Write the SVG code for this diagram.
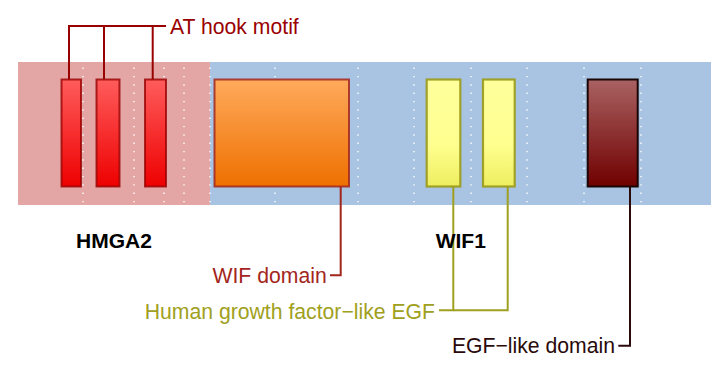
<svg xmlns="http://www.w3.org/2000/svg" width="719" height="366" viewBox="0 0 719 366">
<defs>
<linearGradient id="gRed" x1="0" y1="0" x2="0" y2="1"><stop offset="0" stop-color="#ff5c5c"/><stop offset="1" stop-color="#ee0000"/></linearGradient>
<linearGradient id="gOrange" x1="0" y1="0" x2="0" y2="1"><stop offset="0" stop-color="#ffaa5c"/><stop offset="1" stop-color="#ee7000"/></linearGradient>
<linearGradient id="gYellow" x1="0" y1="0" x2="0" y2="1"><stop offset="0" stop-color="#ffff9c"/><stop offset="0.6" stop-color="#ffff90"/><stop offset="1" stop-color="#eeee60"/></linearGradient>
<linearGradient id="gBrown" x1="0" y1="0" x2="0" y2="1"><stop offset="0" stop-color="#a96262"/><stop offset="1" stop-color="#700000"/></linearGradient>
</defs>
<style>
.dot{stroke:#ffffff;stroke-width:1.4;stroke-dasharray:1.4 6.93;fill:none}
.lbl{font-family:"Liberation Sans",Arial,sans-serif;font-size:21.2px}
.title{font-family:"Liberation Sans",Arial,sans-serif;font-size:21px;font-weight:bold;fill:#000}
.conn{fill:none;stroke-width:2}
</style>
<g id="background">
<rect x="18" y="62" width="192" height="143" fill="#e4a5a5"/>
<rect x="210" y="62" width="501" height="143" fill="#a8c4e2"/>
</g>
<g id="gridlines">
<line class="dot" x1="83" y1="67.6" x2="83" y2="203"/>
<line class="dot" x1="134" y1="67.6" x2="134" y2="203"/>
<line class="dot" x1="164" y1="67.6" x2="164" y2="203"/>
<line class="dot" x1="184" y1="67.6" x2="184" y2="203"/>
<line class="dot" x1="210" y1="67.6" x2="210" y2="203"/>
<line class="dot" x1="275" y1="67.6" x2="275" y2="203"/>
<line class="dot" x1="358" y1="67.6" x2="358" y2="203"/>
<line class="dot" x1="414" y1="67.6" x2="414" y2="203"/>
<line class="dot" x1="471" y1="67.6" x2="471" y2="203"/>
<line class="dot" x1="527" y1="67.6" x2="527" y2="203"/>
<line class="dot" x1="584" y1="67.6" x2="584" y2="203"/>
<line class="dot" x1="641" y1="67.6" x2="641" y2="203"/>
</g>
<g id="connectors">
<polyline class="conn" stroke="#990000" points="69,79.5 69,26 166,26"/>
<line class="conn" stroke="#990000" x1="104" y1="26" x2="104" y2="79.5"/>
<line class="conn" stroke="#990000" x1="152.7" y1="26" x2="152.7" y2="79.5"/>
<polyline class="conn" stroke="#a3261c" points="340.7,186.5 340.7,275.3 330,275.3"/>
<polyline class="conn" stroke="#a0a020" points="453.3,186.5 453.3,310.3 439,310.3"/>
<polyline class="conn" stroke="#a0a020" points="507.7,186.5 507.7,310.3 453.3,310.3"/>
<polyline class="conn" stroke="#2a0a0a" points="630,186.5 630,345.7 618.3,345.7"/>
</g>
<g id="hmga2">
<rect id="at1" x="61.5" y="79.5" width="19.5" height="107" fill="url(#gRed)" stroke="#990000" stroke-opacity="0.8" stroke-width="2"/>
<rect id="at2" x="96.5" y="79.5" width="23" height="107" fill="url(#gRed)" stroke="#990000" stroke-opacity="0.8" stroke-width="2"/>
<rect id="at3" x="145" y="79.5" width="21" height="107" fill="url(#gRed)" stroke="#990000" stroke-opacity="0.8" stroke-width="2"/>
<text class="title" x="76" y="248.3">HMGA2</text>
</g>
<g id="wif1">
<rect id="wifdomain" x="214.5" y="79.5" width="134.5" height="107" fill="url(#gOrange)" stroke="#a3261c" stroke-opacity="0.85" stroke-width="2"/>
<rect id="egf1" x="426.7" y="79.5" width="33.6" height="107" fill="url(#gYellow)" stroke="#9a9a18" stroke-opacity="0.9" stroke-width="2.2"/>
<rect id="egf2" x="483" y="79.5" width="31.7" height="107" fill="url(#gYellow)" stroke="#9a9a18" stroke-opacity="0.9" stroke-width="2.2"/>
<rect id="egflike" x="587.7" y="79.5" width="50" height="107" fill="url(#gBrown)" stroke="#1a0505" stroke-width="2"/>
<text class="title" x="435.7" y="248.3">WIF1</text>
</g>
<g id="labels">
<text class="lbl" x="170" y="33.7" fill="#990000">AT hook motif</text>
<text class="lbl" x="326.7" y="282.7" fill="#a3261c" text-anchor="end">WIF domain</text>
<text class="lbl" x="435" y="318.5" fill="#a0a020" text-anchor="end">Human growth factor−like EGF</text>
<text class="lbl" x="615" y="353.3" fill="#2a0a0a" text-anchor="end">EGF−like domain</text>
</g>
</svg>
